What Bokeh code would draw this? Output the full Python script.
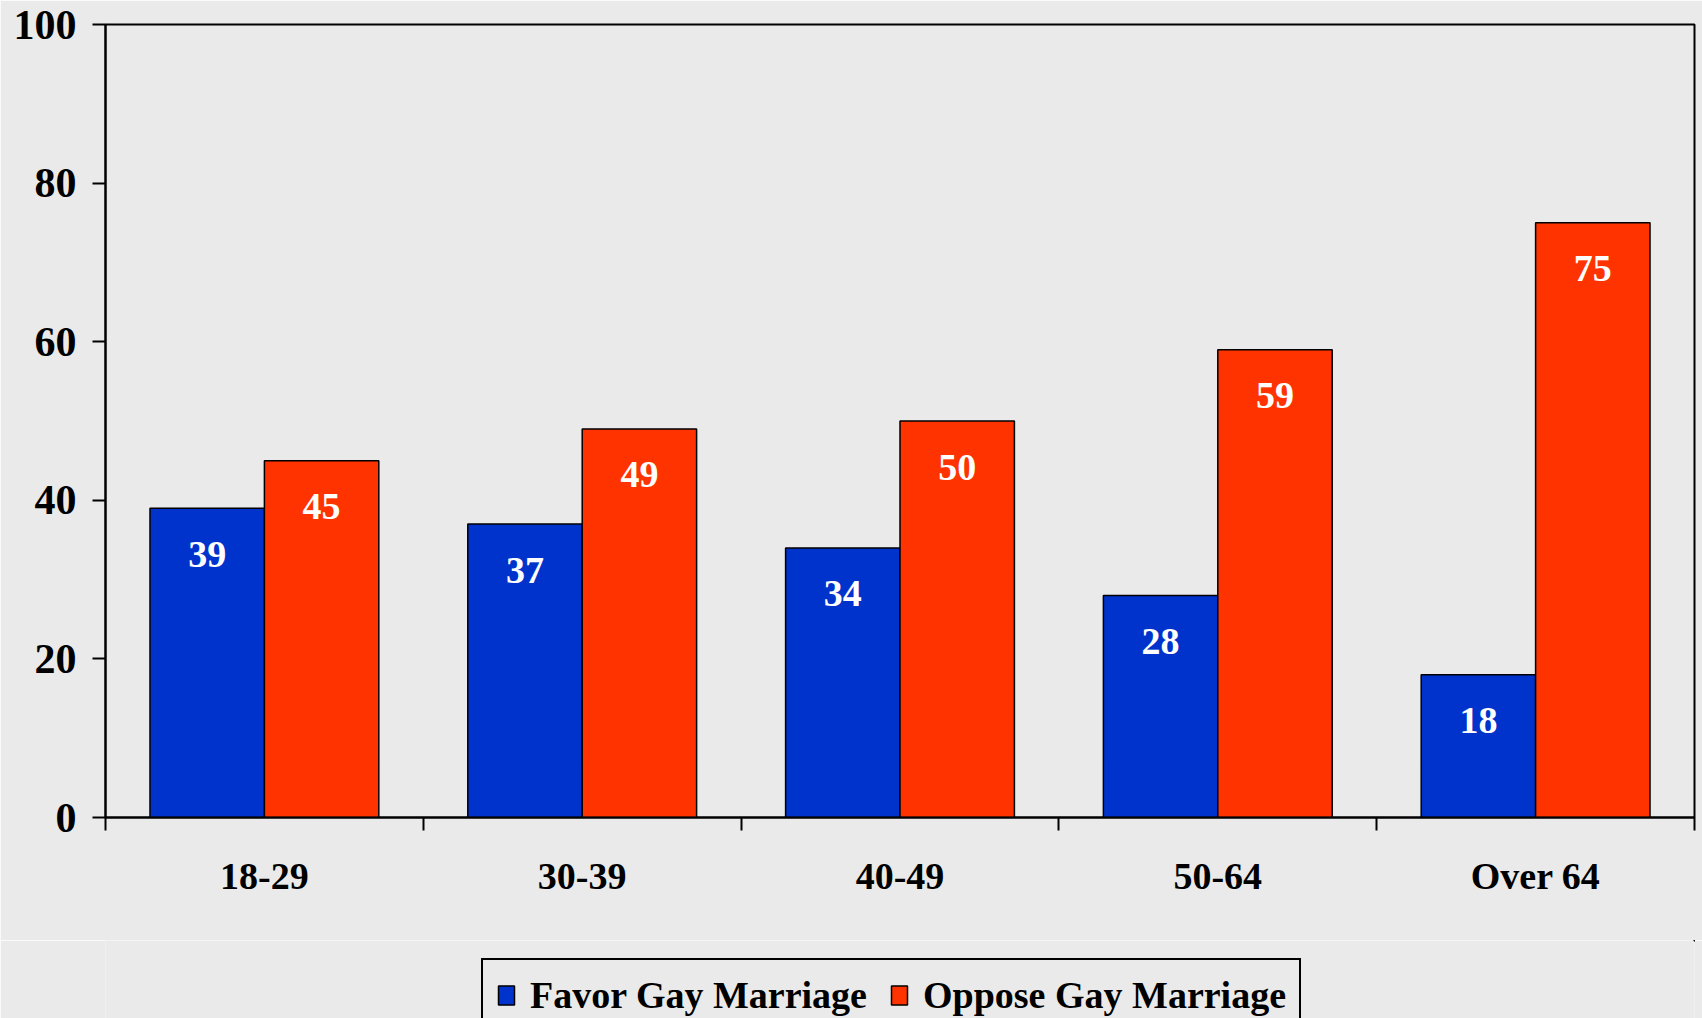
from bokeh.plotting import figure
from bokeh.layouts import column
from bokeh.models import Range1d, FixedTicker, Legend, LegendItem, ColumnDataSource, CustomJSTickFormatter
from bokeh.embed import file_html
from bokeh.resources import INLINE
from bokeh.core.properties import value

categories = ["18-29", "30-39", "40-49", "50-64", "Over 64"]
favor = [39, 37, 34, 28, 18]
oppose = [45, 49, 50, 59, 75]
series_names = ["Favor Gay Marriage", "Oppose Gay Marriage"]
y_ticks = [0, 20, 40, 60, 80, 100]

BG = "#EAEAEA"
FONT = "Liberation Serif"
BLUE = "#0033CC"
RED = "#FF3300"

p = figure(width=1702, height=940,
           x_range=Range1d(0, len(categories)), y_range=Range1d(0, 100),
           output_backend="svg", toolbar_location=None,
           background_fill_color=BG, border_fill_color=BG,
           min_border_left=105, min_border_right=8, min_border_top=24, min_border_bottom=123)
p.outline_line_color = "black"
p.outline_line_width = 2
p.xgrid.visible = False
p.ygrid.visible = False

centers = [i + 0.5 for i in range(len(categories))]
off = 0.18
w = 0.36
src = ColumnDataSource(dict(
    xf=[c - off for c in centers], xo=[c + off for c in centers],
    favor=favor, oppose=oppose,
    lf=[str(v) for v in favor], lo=[str(v) for v in oppose]))

bar_kw = dict(bottom=0, width=w, source=src, line_color="black", line_width=1.5)
r1 = p.vbar(x="xf", top="favor", fill_color=BLUE, **bar_kw)
r2 = p.vbar(x="xo", top="oppose", fill_color=RED, **bar_kw)

for xcol, ycol, tcol in (("xf", "favor", "lf"), ("xo", "oppose", "lo")):
    p.text(x=xcol, y=ycol, text=tcol, source=src, text_align="center",
           text_baseline="middle", y_offset=46, text_color="white",
           text_font=value(FONT), text_font_style="bold", text_font_size="38px")

xa = p.xaxis[0]
xa.ticker = FixedTicker(ticks=centers, minor_ticks=list(range(len(categories) + 1)))
xa.formatter = CustomJSTickFormatter(args=dict(cats=categories),
                                     code="return cats[Math.floor(tick)] || '';")
xa.major_tick_out = 0
xa.major_tick_in = 0
xa.minor_tick_out = 13
xa.minor_tick_in = 0
xa.minor_tick_line_color = "black"
xa.minor_tick_line_width = 2
xa.axis_line_width = 2
xa.axis_line_color = "black"
xa.major_label_standoff = 24
xa.major_label_text_font = FONT
xa.major_label_text_font_style = "bold"
xa.major_label_text_font_size = "38px"
xa.major_label_text_color = "black"

ya = p.yaxis[0]
ya.ticker = FixedTicker(ticks=y_ticks)
ya.major_tick_out = 13
ya.major_tick_in = 0
ya.minor_tick_out = 0
ya.minor_tick_in = 0
ya.major_tick_line_width = 2
ya.major_tick_line_color = "black"
ya.axis_line_width = 2
ya.axis_line_color = "black"
ya.major_label_standoff = 16
ya.major_label_text_font = FONT
ya.major_label_text_font_style = "bold"
ya.major_label_text_font_size = "42px"
ya.major_label_text_color = "black"

# legend strip: a figure whose frame holds the legend; its swatch renderers lie outside its ranges
lg = figure(width=1702, height=78, x_range=Range1d(-10, -9), y_range=Range1d(-10, -9),
            output_backend="svg", toolbar_location=None,
            x_axis_location=None, y_axis_location=None,
            background_fill_color=BG, border_fill_color=BG,
            min_border_left=0, min_border_right=0, min_border_top=0, min_border_bottom=0)
lg.outline_line_color = None
lg.xgrid.visible = False
lg.ygrid.visible = False
s1 = lg.vbar(x="xf", top="favor", fill_color=BLUE, **bar_kw)
s2 = lg.vbar(x="xo", top="oppose", fill_color=RED, **bar_kw)

legend = Legend(items=[LegendItem(label=series_names[0], renderers=[s1]),
                       LegendItem(label=series_names[1], renderers=[s2])],
                orientation="horizontal", location=(376, -14),
                label_text_font=FONT, label_text_font_style="bold",
                label_text_font_size="38px", label_text_color="black",
                glyph_width=20, glyph_height=24, label_standoff=14,
                spacing=22, padding=13, margin=0,
                border_line_color="black", border_line_width=2, border_line_alpha=1,
                background_fill_color=BG, background_fill_alpha=1)
lg.add_layout(legend, "center")

layout = column(p, lg, spacing=0)
open("out.html", "w").write(file_html(layout, INLINE))
